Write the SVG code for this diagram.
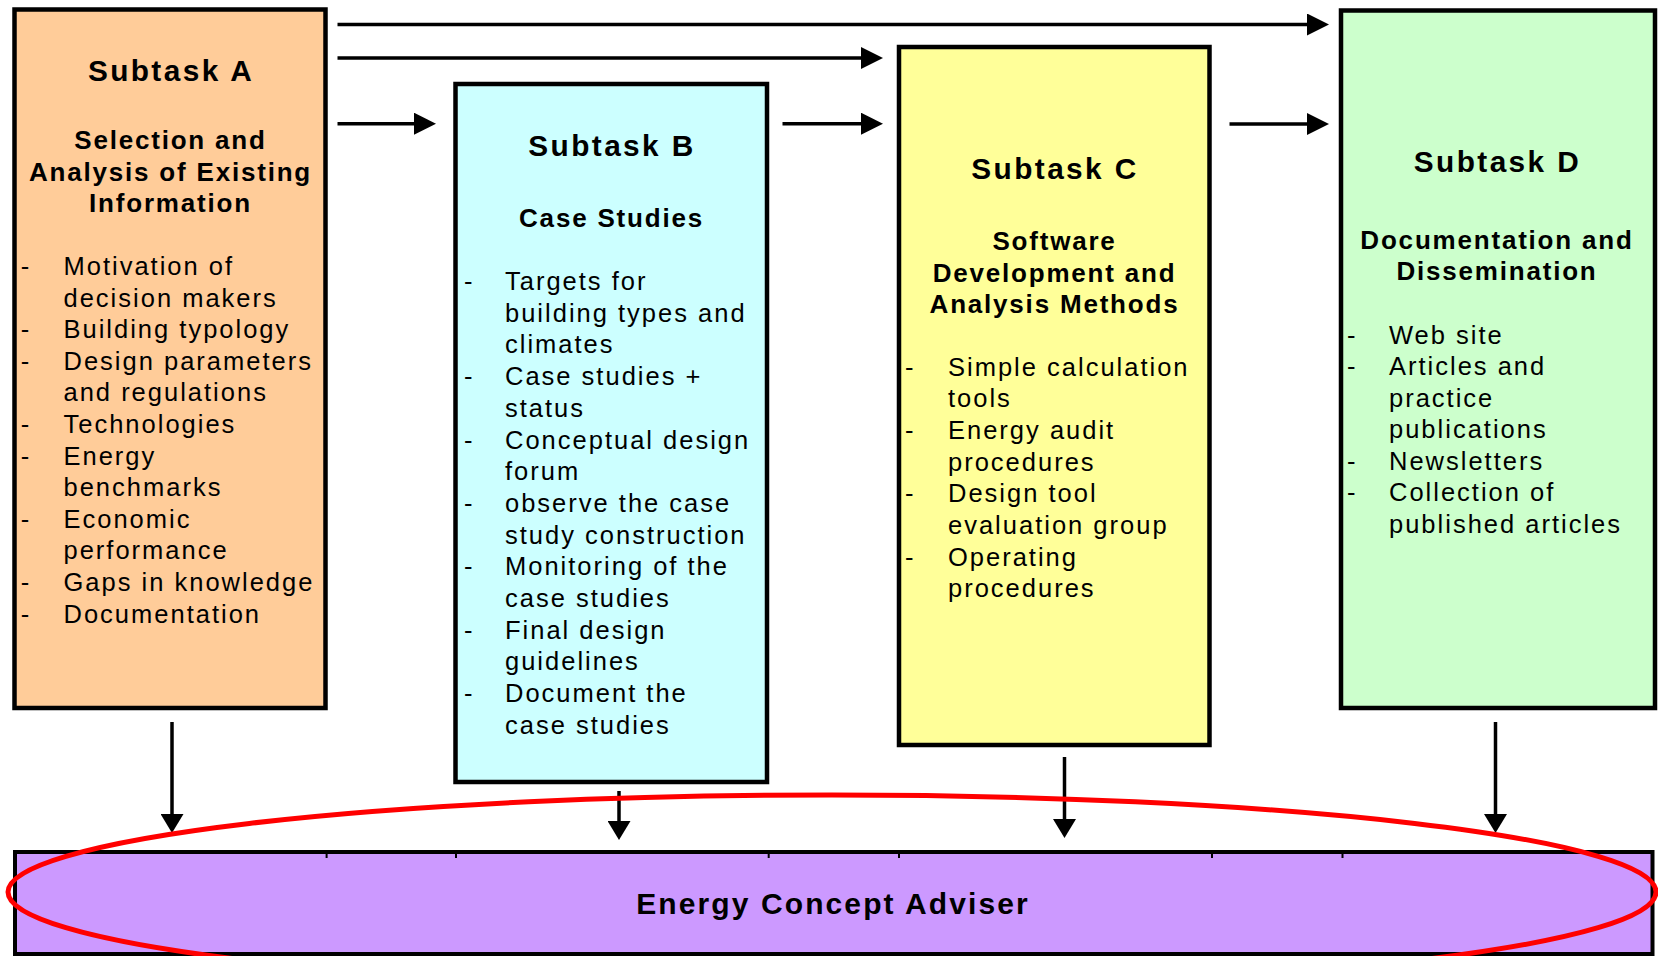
<svg xmlns="http://www.w3.org/2000/svg" width="1658" height="956" viewBox="0 0 1658 956">
<style>
.box{stroke:#000;stroke-width:4.5}
.t{font-family:"Liberation Sans",Arial,Helvetica,sans-serif;fill:#000}
.title{font-size:29.8px;font-weight:bold;letter-spacing:2.4px;text-anchor:middle}
.sub{font-size:26px;font-weight:bold;letter-spacing:1.8px;text-anchor:middle}
.body{font-size:25.5px;letter-spacing:2px}
.conn path{stroke:#000;stroke-width:3.5;fill:none}
.tick{stroke:#000;stroke-width:2}
</style>
<defs>
<marker id="ah" markerUnits="userSpaceOnUse" markerWidth="22" markerHeight="22" viewBox="0 0 22 22" refX="1" refY="11" orient="auto"><path d="M0,0 L22,11 L0,22 z" fill="#000"/></marker>
<marker id="av" markerUnits="userSpaceOnUse" markerWidth="19" markerHeight="23" viewBox="0 0 19 23" refX="1" refY="11.5" orient="auto"><path d="M0,0 L19,11.5 L0,23 z" fill="#000"/></marker>
</defs>
<rect width="1658" height="956" fill="#fff"/>

<g id="adviser">
<rect x="15" y="852" width="1637.5" height="102" fill="#CC99FF" stroke="#000" stroke-width="4"/>
<line class="tick" x1="326.6" y1="852" x2="326.6" y2="858"/>
<line class="tick" x1="456" y1="852" x2="456" y2="858"/>
<line class="tick" x1="768.7" y1="852" x2="768.7" y2="858"/>
<line class="tick" x1="899" y1="852" x2="899" y2="858"/>
<line class="tick" x1="1212" y1="852" x2="1212" y2="858"/>
<line class="tick" x1="1342.5" y1="852" x2="1342.5" y2="858"/>
<text class="t" x="833" y="914" style="font-size:30px;font-weight:bold;letter-spacing:2.1px;text-anchor:middle">Energy Concept Adviser</text>
</g>

<g id="subtaskA">
<rect class="box" x="14.5" y="9.5" width="311" height="698.5" fill="#FFCC99"/>
<text class="t title" x="171" y="81">Subtask A</text>
<text class="t sub"><tspan x="170.5" y="149">Selection and</tspan><tspan x="170.5" y="180.5">Analysis of Existing</tspan><tspan x="170.5" y="212">Information</tspan></text>
<text class="t body"><tspan x="20.7" y="275">-</tspan><tspan x="20.7" y="338.2">-</tspan><tspan x="20.7" y="369.8">-</tspan><tspan x="20.7" y="433">-</tspan><tspan x="20.7" y="464.6">-</tspan><tspan x="20.7" y="527.8">-</tspan><tspan x="20.7" y="591">-</tspan><tspan x="20.7" y="622.6">-</tspan></text>
<text class="t body"><tspan x="63.5" y="275">Motivation of</tspan><tspan x="63.5" y="306.6">decision makers</tspan><tspan x="63.5" y="338.2">Building typology</tspan><tspan x="63.5" y="369.8">Design parameters</tspan><tspan x="63.5" y="401.4">and regulations</tspan><tspan x="63.5" y="433">Technologies</tspan><tspan x="63.5" y="464.6">Energy</tspan><tspan x="63.5" y="496.2">benchmarks</tspan><tspan x="63.5" y="527.8">Economic</tspan><tspan x="63.5" y="559.4">performance</tspan><tspan x="63.5" y="591">Gaps in knowledge</tspan><tspan x="63.5" y="622.6">Documentation</tspan></text>
</g>

<g id="subtaskB">
<rect class="box" x="455.5" y="84" width="311.5" height="698" fill="#CCFFFF"/>
<text class="t title" x="612" y="156">Subtask B</text>
<text class="t sub" x="611.5" y="226.5">Case Studies</text>
<text class="t body"><tspan x="464" y="290">-</tspan><tspan x="464" y="385.1">-</tspan><tspan x="464" y="448.5">-</tspan><tspan x="464" y="511.9">-</tspan><tspan x="464" y="575.3">-</tspan><tspan x="464" y="638.7">-</tspan><tspan x="464" y="702.1">-</tspan></text>
<text class="t body"><tspan x="505" y="290">Targets for</tspan><tspan x="505" y="321.7">building types and</tspan><tspan x="505" y="353.4">climates</tspan><tspan x="505" y="385.1">Case studies +</tspan><tspan x="505" y="416.8">status</tspan><tspan x="505" y="448.5">Conceptual design</tspan><tspan x="505" y="480.2">forum</tspan><tspan x="505" y="511.9">observe the case</tspan><tspan x="505" y="543.6">study construction</tspan><tspan x="505" y="575.3">Monitoring of the</tspan><tspan x="505" y="607">case studies</tspan><tspan x="505" y="638.7">Final design</tspan><tspan x="505" y="670.4">guidelines</tspan><tspan x="505" y="702.1">Document the</tspan><tspan x="505" y="733.8">case studies</tspan></text>
</g>

<g id="subtaskC">
<rect class="box" x="899" y="47" width="310.5" height="698" fill="#FFFF99"/>
<text class="t title" x="1055" y="178.5">Subtask C</text>
<text class="t sub"><tspan x="1054.5" y="250">Software</tspan><tspan x="1054.5" y="281.5">Development and</tspan><tspan x="1054.5" y="313">Analysis Methods</tspan></text>
<text class="t body"><tspan x="905" y="375.5">-</tspan><tspan x="905" y="438.9">-</tspan><tspan x="905" y="502.3">-</tspan><tspan x="905" y="565.7">-</tspan></text>
<text class="t body"><tspan x="948" y="375.5">Simple calculation</tspan><tspan x="948" y="407.2">tools</tspan><tspan x="948" y="438.9">Energy audit</tspan><tspan x="948" y="470.6">procedures</tspan><tspan x="948" y="502.3">Design tool</tspan><tspan x="948" y="534">evaluation group</tspan><tspan x="948" y="565.7">Operating</tspan><tspan x="948" y="597.4">procedures</tspan></text>
</g>

<g id="subtaskD">
<rect class="box" x="1341" y="10.5" width="314" height="697.5" fill="#CCFFCC"/>
<text class="t title" x="1497.5" y="171.5">Subtask D</text>
<text class="t sub"><tspan x="1497" y="248.5">Documentation and</tspan><tspan x="1497" y="279.5">Dissemination</tspan></text>
<text class="t body"><tspan x="1347" y="343.5">-</tspan><tspan x="1347" y="375">-</tspan><tspan x="1347" y="469.5">-</tspan><tspan x="1347" y="501">-</tspan></text>
<text class="t body"><tspan x="1389" y="343.5">Web site</tspan><tspan x="1389" y="375">Articles and</tspan><tspan x="1389" y="406.5">practice</tspan><tspan x="1389" y="438">publications</tspan><tspan x="1389" y="469.5">Newsletters</tspan><tspan x="1389" y="501">Collection of</tspan><tspan x="1389" y="532.5">published articles</tspan></text>
</g>

<g id="connectors" class="conn">
<path d="M337.5,24.5 H1308" marker-end="url(#ah)"/>
<path d="M337.5,58 H862" marker-end="url(#ah)"/>
<path d="M337.5,123.7 H415" marker-end="url(#ah)"/>
<path d="M782.5,123.7 H862" marker-end="url(#ah)"/>
<path d="M1229.5,124 H1308" marker-end="url(#ah)"/>
<path d="M172,722 V815" marker-end="url(#av)"/>
<path d="M619,791 V822" marker-end="url(#av)"/>
<path d="M1064.5,757 V820" marker-end="url(#av)"/>
<path d="M1495.5,722 V815" marker-end="url(#av)"/>
</g>

<g id="boundary">
<ellipse cx="832" cy="892" rx="824" ry="97" fill="none" stroke="#FF0000" stroke-width="5"/>
</g>
</svg>
